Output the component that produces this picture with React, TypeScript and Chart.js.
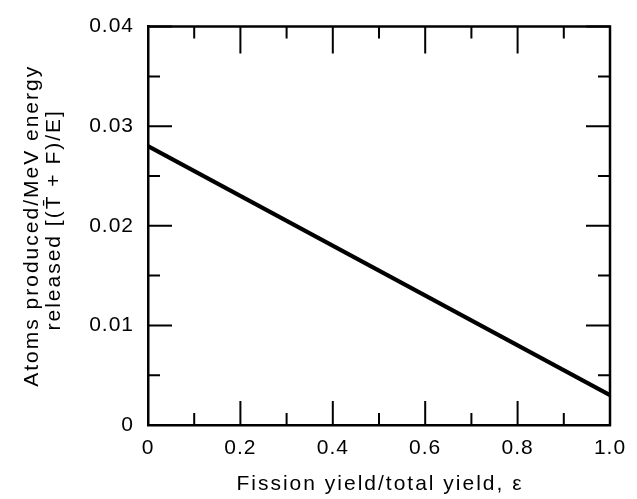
import React, { useEffect, useRef } from "react";
import { Chart, registerables } from "chart.js";

Chart.register(...registerables);

// Data
const fissionFraction = [0, 1.0];
const atomsPerMeV = [0.028, 0.003];

// Axes
const xTickValues = [0, 0.2, 0.4, 0.6, 0.8, 1.0];
const xTickLabels = ["0", "0.2", "0.4", "0.6", "0.8", "1.0"];
const xMinorTicks = [0.1, 0.3, 0.5, 0.7, 0.9];
const yTickValues = [0, 0.01, 0.02, 0.03, 0.04];
const yTickLabels = ["0", "0.01", "0.02", "0.03", "0.04"];
const yMinorTicks = [0.005, 0.015, 0.025, 0.035];

const xTitle = "Fission yield/total yield, \u03b5";
const yTitle = ["Atoms produced/MeV energy", "released [(T\u0304 + F)/E]"];

const FONT = "'Liberation Sans', Arial, Helvetica, sans-serif";

const framePlugin = {
  id: "frameTicks",
  beforeDraw(chart: any) {
    (chart.ctx as any).letterSpacing = "1px";
  },
  afterDraw(chart: any) {
    const ctx = chart.ctx;
    const { left, right, top, bottom } = chart.chartArea;
    const xs = chart.scales.x;
    const ys = chart.scales.y;
    ctx.save();
    ctx.strokeStyle = "#000";
    ctx.lineCap = "butt";
    // frame top and right
    ctx.lineWidth = 2.5;
    ctx.beginPath();
    ctx.moveTo(left - 1, top);
    ctx.lineTo(right, top);
    ctx.lineTo(right, bottom + 1);
    ctx.stroke();
    ctx.lineWidth = 2;
    const major = 24;
    const minor = 12;
    ctx.beginPath();
    xTickValues.forEach((v) => {
      const px = xs.getPixelForValue(v);
      ctx.moveTo(px, bottom);
      ctx.lineTo(px, bottom - major);
      ctx.moveTo(px, top);
      ctx.lineTo(px, top + major + 3);
    });
    xMinorTicks.forEach((v) => {
      const px = xs.getPixelForValue(v);
      ctx.moveTo(px, bottom);
      ctx.lineTo(px, bottom - minor);
      ctx.moveTo(px, top);
      ctx.lineTo(px, top + minor);
    });
    yTickValues.forEach((v) => {
      const py = ys.getPixelForValue(v);
      ctx.moveTo(left, py);
      ctx.lineTo(left + major, py);
      ctx.moveTo(right, py);
      ctx.lineTo(right - major, py);
    });
    yMinorTicks.forEach((v) => {
      const py = ys.getPixelForValue(v);
      ctx.moveTo(left, py);
      ctx.lineTo(left + minor, py);
      ctx.moveTo(right, py);
      ctx.lineTo(right - minor, py);
    });
    ctx.stroke();

    // axis titles
    ctx.fillStyle = "#000";
    ctx.font = "21px " + FONT;
    (ctx as any).letterSpacing = "2px";
    ctx.textAlign = "center";
    ctx.textBaseline = "alphabetic";
    ctx.fillText(xTitle, (left + right) / 2 + 1, 490);

    const cy = (top + bottom) / 2;
    const baselines = [38, 60];
    yTitle.forEach((line, i) => {
      ctx.save();
      ctx.translate(baselines[i], cy - i * 6);
      ctx.rotate(-Math.PI / 2);
      ctx.fillText(line, 0, 0);
      ctx.restore();
    });
    ctx.restore();
  },
};

export default function App() {
  const ref = useRef<HTMLCanvasElement>(null);
  useEffect(() => {
    if (!ref.current) return;
    const chart = new Chart(ref.current, {
      type: "line",
      data: {
        datasets: [
          {
            data: fissionFraction.map((x, i) => ({ x, y: atomsPerMeV[i] })),
            borderColor: "#000",
            borderWidth: 4,
            pointRadius: 0,
            fill: false,
            tension: 0,
          },
        ],
      },
      options: {
        animation: false,
        responsive: false,
        devicePixelRatio: 1,
        layout: { padding: { top: 17, right: 27, left: 0, bottom: 0 } },
        plugins: { legend: { display: false }, tooltip: { enabled: false } },
        scales: {
          x: {
            type: "linear",
            min: 0,
            max: 1,
            grid: { display: false, drawTicks: false },
            border: { display: true, color: "#000", width: 2.5 },
            afterBuildTicks: (s: any) => {
              s.ticks = xTickValues.map((v) => ({ value: v }));
            },
            afterFit: (s: any) => {
              s.height = 74;
            },
            ticks: {
              padding: 11,
              color: "#000",
              font: { family: FONT, size: 21 },
              maxRotation: 0,
              autoSkip: false,
              callback: (v: any) => xTickLabels[xTickValues.indexOf(Number(v))] ?? "",
            },
            title: { display: false },
          },
          y: {
            type: "linear",
            min: 0,
            max: 0.04,
            grid: { display: false, drawTicks: false },
            border: { display: true, color: "#000", width: 2.5 },
            afterBuildTicks: (s: any) => {
              s.ticks = yTickValues.map((v) => ({ value: v }));
            },
            afterFit: (s: any) => {
              s.width = 148;
            },
            ticks: {
              padding: 14,
              color: "#000",
              font: { family: FONT, size: 21 },
              autoSkip: false,
              callback: (v: any) => {
                const i = yTickValues.findIndex((t) => Math.abs(t - Number(v)) < 1e-9);
                return i >= 0 ? yTickLabels[i] : "";
              },
            },
            title: { display: false },
          },
        },
      },
      plugins: [framePlugin],
    } as any);
    return () => chart.destroy();
  }, []);
  return (
    <div style={{ position: "absolute", left: 0, top: 0, width: 637, height: 499, background: "#fff" }}>
      <canvas ref={ref} width={637} height={499} />
    </div>
  );
}
